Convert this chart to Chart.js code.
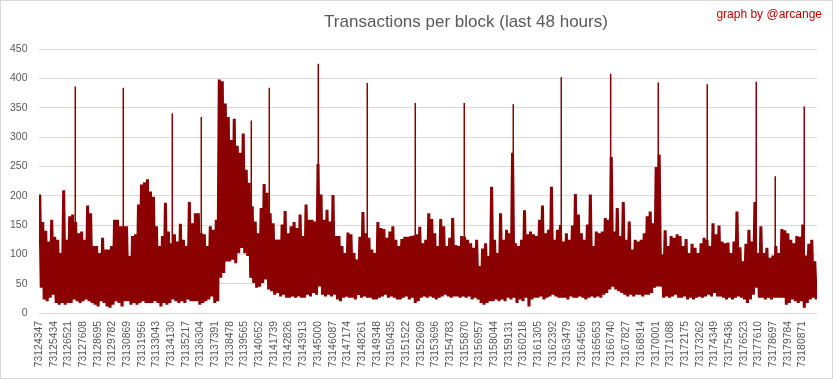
<!DOCTYPE html>
<html>
<head>
<meta charset="utf-8">
<script src="https://cdn.jsdelivr.net/npm/chart.js@4.4.1/dist/chart.umd.min.js"></script>
<style>
html,body{margin:0;padding:0;background:#ffffff;}
#wrap{width:833px;height:379px;position:relative;}
canvas{display:block;}
</style>
</head>
<body>
<div id="wrap"><canvas id="c" width="833" height="379"></canvas></div>
<script>
// ---------------- data ----------------
const TITLE = 'Transactions per block (last 48 hours)';
const CREDIT = 'graph by @arcange';
const FIRST_BLOCK = 73124347;
const LAST_BLOCK = 73181947;

const tickBlocks = [
  73124347, 73125434, 73126521, 73127608, 73128695, 73129782, 73130869, 73131956,
  73133043, 73134130, 73135217, 73136304, 73137391, 73138478, 73139565, 73140652,
  73141739, 73142826, 73143913, 73145000, 73146087, 73147174, 73148261, 73149348,
  73150435, 73151522, 73152609, 73153696, 73154783, 73155870, 73156957, 73158044,
  73159131, 73160218, 73161305, 73162392, 73163479, 73164566, 73165653, 73166740,
  73167827, 73168914, 73170001, 73171088, 73172175, 73173262, 73174349, 73175436,
  73176523, 73177610, 73178697, 73179784, 73180871
];
const yTicks = [0, 50, 100, 150, 200, 250, 300, 350, 400, 450];

// per-slice maximum / minimum transactions (evenly spaced slices)
const txHigh = [
  202,155,140,122,159,130,125,102,209,125,165,168,155,136,139,125,183,170,114,114,102,128,108,108,114,159,159,148,148,148,97,131,134,185,219,223,228,207,198,148,114,131,188,139,119,134,122,152,125,114,189,153,170,170,
  136,134,114,148,142,159,398,395,357,334,295,331,285,273,306,244,222,182,156,136,179,220,205,170,153,125,125,151,174,136,148,155,145,168,131,185,159,159,156,254,202,159,176,156,201,131,131,114,102,137,134,102,91,130,
  172,136,128,108,102,155,145,143,128,139,148,125,114,126,130,130,131,132,134,147,119,125,170,160,136,114,160,148,114,128,162,116,114,131,130,125,119,111,125,80,110,119,97,215,125,102,170,125,142,136,273,119,114,
  125,175,134,139,134,131,159,183,136,142,215,125,142,150,122,136,125,149,203,168,136,125,151,202,114,139,136,139,162,159,266,139,179,131,189,125,156,108,125,122,125,136,165,173,153,249,270,100,141,114,131,128,134,
  131,114,126,102,118,111,102,119,128,125,114,153,134,149,122,119,120,102,122,173,112,88,118,142,122,189,102,148,102,111,94,98,114,102,143,141,136,125,119,131,130,151,98,118,125,88
];
const txLow = [
  43,23,20,26,31,17,14,17,14,17,17,23,20,17,20,23,20,17,14,11,20,17,11,9,14,20,17,11,20,20,14,17,14,17,20,17,17,17,20,17,11,17,14,17,23,20,17,20,17,23,20,20,20,14,
  17,20,23,28,17,20,60,68,88,88,91,85,102,111,102,97,60,51,43,45,51,57,40,37,31,34,28,31,26,26,28,26,28,26,26,31,28,34,31,45,31,28,31,28,31,23,20,26,28,26,26,23,31,26,
  28,26,26,23,23,26,28,31,26,28,26,23,23,26,28,23,26,17,20,26,28,26,28,26,23,26,28,31,28,26,28,28,26,28,26,28,23,26,23,17,14,17,20,20,23,20,23,20,26,23,26,17,23,
  20,26,11,23,26,26,28,23,26,28,31,28,26,26,26,23,28,26,26,28,26,23,26,28,26,28,26,31,34,40,45,40,37,34,31,28,31,28,31,31,28,31,31,34,43,45,45,26,28,26,28,31,26,
  26,28,23,26,23,26,28,26,28,31,28,34,28,28,26,23,26,23,26,28,26,23,17,23,31,43,26,26,23,26,23,26,26,26,26,14,17,23,20,17,20,9,17,23,26,23
];

// isolated tall single-block peaks
const spikeBlocks = [73127034, 73130588, 73134215, 73136362, 73140064, 73141396, 73145024, 73148651, 73152205,
                     73155832, 73159459, 73163013, 73166670, 73170194, 73173821, 73177449, 73178855, 73181002];
const spikeValues = [386, 384, 340, 334, 328, 384, 425, 392, 358, 358, 356, 402, 408, 393, 390, 394, 233, 352];
const spikeFloor = 60;

// ---------------- build ----------------
const sliceStep = (LAST_BLOCK - FIRST_BLOCK) / txHigh.length;
const zigData = [];
for (let k = 0; k < txHigh.length; k++) {
  const b = FIRST_BLOCK + (k + 0.25) * sliceStep;
  zigData.push({x: b, y: txHigh[k]});
  zigData.push({x: b + sliceStep / 2, y: txLow[k]});
}
const spikeData = [];
spikeBlocks.forEach((b, i) => {
  spikeData.push({x: b, y: spikeFloor});
  spikeData.push({x: b, y: spikeValues[i]});
  spikeData.push({x: b, y: null});
});

const LINE = '#8b0000';
const GRID = '#d9d9d9';
const TXT = '#595959';
const FONT = '"Liberation Sans", Arial, sans-serif';

const decor = {
  id: 'decor',
  afterDraw(chart) {
    const ctx = chart.ctx;
    ctx.save();
    ctx.fillStyle = TXT;
    ctx.font = '17px ' + FONT;
    ctx.textAlign = 'center';
    ctx.textBaseline = 'alphabetic';
    ctx.fillText(TITLE, 466, 27);
    ctx.fillStyle = '#c00000';
    ctx.font = '12px ' + FONT;
    ctx.textAlign = 'right';
    ctx.fillText(CREDIT, 822, 18);
    ctx.strokeStyle = GRID;
    ctx.lineWidth = 1;
    ctx.strokeRect(0.5, 0.5, 832, 378);
    ctx.restore();
  }
};

new Chart(document.getElementById('c'), {
  type: 'line',
  data: {
    datasets: [
      {data: zigData, borderColor: LINE, borderWidth: 3, borderJoinStyle: 'bevel', pointRadius: 0, tension: 0, fill: false},
      {data: spikeData, borderColor: LINE, borderWidth: 1.5, pointRadius: 0, tension: 0, fill: false, spanGaps: false}
    ]
  },
  options: {
    responsive: false,
    devicePixelRatio: 1,
    animation: false,
    events: [],
    layout: {padding: {left: 0, top: 49, right: 16, bottom: 0}},
    plugins: {legend: {display: false}, tooltip: {enabled: false}, title: {display: false}},
    scales: {
      x: {
        type: 'linear',
        min: FIRST_BLOCK,
        max: LAST_BLOCK,
        afterBuildTicks: (s) => { s.ticks = tickBlocks.map(v => ({value: v})); },
        afterFit: (s) => { s.height = 66; },
        grid: {display: false, drawTicks: false},
        border: {display: false},
        ticks: {
          autoSkip: false, minRotation: 90, maxRotation: 90, padding: 8,
          color: TXT, font: {family: FONT, size: 10.4},
          callback: (v) => String(v)
        }
      },
      y: {
        min: 0, max: 450,
        afterBuildTicks: (s) => { s.ticks = yTicks.map(v => ({value: v})); },
        afterFit: (s) => { s.width = 39; },
        grid: {color: GRID, lineWidth: 1, drawTicks: false},
        border: {display: false},
        ticks: {padding: 11.5, color: TXT, font: {family: FONT, size: 10.5}, callback: (v) => String(v)}
      }
    }
  },
  plugins: [decor]
});
</script>
</body>
</html>
